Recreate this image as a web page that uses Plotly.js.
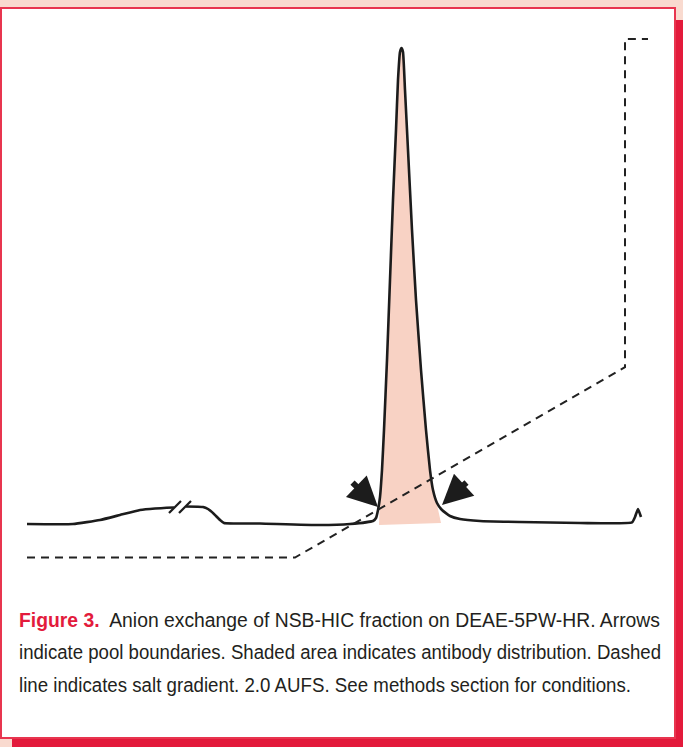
<!DOCTYPE html>
<html>
<head>
<meta charset="utf-8">
<script src="https://cdn.plot.ly/plotly-3.0.1.min.js"></script>
<style>
html,body{margin:0;padding:0;background:#f9dacf;}
#chart{width:683px;height:747px;}
</style>
</head>
<body>
<div id="chart"></div>
<script>
// Chromatogram (time, min ; absorbance, % of full scale)
var traceTime = [0, 4.6, 7.3, 9.3, 11.3, 12.8, 14.7, null, 15.9, 17.6, 18.1, 18.7, 19.3, 19.7, 23.3, 29.3, 32.3, 34.6, 34.9, 35.1, 35.3, 35.5, 35.7, 36.0, 36.3, 36.6, 36.9, 37.1, 37.3, 37.45, 37.6, 37.8, 38.1, 38.5, 38.9, 39.4, 39.9, 40.3, 40.6, 41.0, 41.5, 42.3, 43.3, 45.3, 49.3, 55.3, 60.5, 60.8, 61.1, 61.4];
var traceAbs  = [0, 0, 0.84, 1.89, 2.94, 3.26, 3.47, null, 3.68, 3.57, 3.15, 2.10, 0.84, 0.21, 0.10, -0.21, 0, 0.63, 1.26, 2.94, 5.67, 11.34, 19.75, 34.45, 51.26, 68.07, 82.77, 93.28, 99.16, 100, 99.16, 91.18, 78.57, 61.76, 47.06, 32.35, 19.75, 11.34, 7.14, 4.41, 2.94, 1.68, 1.05, 0.63, 0.42, 0.21, 0.32, 1.47, 3.15, 1.47];

// Antibody distribution (shaded)
var shadeTime = [35.2, 35.3, 35.5, 35.7, 36.0, 36.3, 36.6, 36.9, 37.1, 37.3, 37.45, 37.6, 37.8, 38.1, 38.5, 38.9, 39.4, 39.9, 40.3, 40.9, 41.4];
var shadeAbs  = [-0.21, 5.67, 11.34, 19.75, 34.45, 51.26, 68.07, 82.77, 93.28, 99.16, 100, 99.16, 91.18, 78.57, 61.76, 47.06, 32.35, 19.75, 11.34, 5.04, 0.21];

// Axis break marks "//"
var breakTime = [14.2, 15.4, null, 15.2, 16.4];
var breakAbs  = [2.31, 4.83, null, 2.31, 4.83];

// Salt gradient (% B)
var saltTime = [0, 26.8, 59.8, 59.8, 62.1];
var saltPct  = [0, 0, 36.7, 100, 100];

// Pool boundaries (arrows): tip and tail
var poolTipTime  = [35.1, 41.5];
var poolTipAbs   = [3.57, 3.99];
var poolTailTime = [32.4, 44.1];
var poolTailAbs  = [9.0, 9.0];

var captionLines = [
  '<span style="color:#e31b3c"><b>Figure 3.</b></span>&nbsp; Anion exchange of NSB-HIC fraction on DEAE-5PW-HR. Arrows',
  'indicate pool boundaries. Shaded area indicates antibody distribution. Dashed',
  'line indicates salt gradient. 2.0 AUFS. See methods section for conditions.'
];

var W = 683, H = 747;
function px(x){return x/W;}
function py(y){return 1 - y/H;}

var traces = [
  {x: shadeTime, y: shadeAbs, type:'scatter', mode:'lines', fill:'toself', fillcolor:'#f8d2c4', line:{width:0, color:'#f8d2c4'}, hoverinfo:'skip'},
  {x: saltTime, y: saltPct, yaxis:'y2', type:'scatter', mode:'lines', line:{color:'#222', width:2, dash:'8px,6px'}, hoverinfo:'skip'},
  {x: traceTime, y: traceAbs, type:'scatter', mode:'lines', connectgaps:false, line:{color:'#1c1c1c', width:2.6, shape:'spline', smoothing:0.4}, hoverinfo:'skip'},
  {x: breakTime, y: breakAbs, type:'scatter', mode:'lines', connectgaps:false, line:{color:'#1c1c1c', width:2.2}, hoverinfo:'skip'}
];

var annotations = [];
for (var i = 0; i < poolTipTime.length; i++) {
  annotations.push({x: poolTipTime[i], y: poolTipAbs[i], xref:'x', yref:'y', ax: poolTailTime[i], ay: poolTailAbs[i], axref:'x', ayref:'y', text:'', showarrow:true, arrowhead:2, arrowsize:1.0, arrowwidth:6, arrowcolor:'#1c1c1c', standoff:0});
}
var capY = [620, 652, 685];
var capWidth = [641, 642, 612];
for (var j = 0; j < captionLines.length; j++) {
  annotations.push({text: captionLines[j], xref:'paper', yref:'paper', x: px(17), y: py(capY[j]), xanchor:'left', yanchor:'middle', align:'left', showarrow:false, font:{family:'Liberation Sans, Arial, sans-serif', size:17.5, color:'#231f20'}});
}

var layout = {
  width: W, height: H, autosize:false,
  margin:{l:0, r:0, t:0, b:0, pad:0},
  paper_bgcolor:'#f9dacf', plot_bgcolor:'rgba(0,0,0,0)',
  showlegend:false,
  xaxis:{domain:[px(20), px(660)], range:[-0.7, 63.3], showgrid:false, zeroline:false, showticklabels:false, showline:false, ticks:''},
  yaxis:{domain:[py(570), py(30)], range:[-9.664, 103.78], showgrid:false, zeroline:false, showticklabels:false, showline:false, ticks:''},
  yaxis2:{overlaying:'y', range:[-2.411, 101.74], showgrid:false, zeroline:false, showticklabels:false, showline:false, ticks:''},
  shapes:[
    {type:'rect', xref:'paper', yref:'paper', x0:px(12), x1:1, y0:0, y1:py(20), fillcolor:'#e31a3b', line:{width:0}, layer:'below'},
    {type:'rect', xref:'paper', yref:'paper', x0:px(1), x1:px(675), y0:py(738), y1:py(8), fillcolor:'#ffffff', line:{color:'#e8354f', width:2}, layer:'below'}
  ],
  annotations: annotations
};

Plotly.newPlot('chart', traces, layout, {displayModeBar:false, staticPlot:true}).then(function(gd){
  // reproduce the reference's tall, condensed caption typeface
  for (var k = 0; k < captionLines.length; k++) {
    var idx = poolTipTime.length + k;
    var g = gd.querySelector('g.annotation[data-index="' + idx + '"]');
    if (!g) continue;
    var t = g.querySelector('text.annotation-text');
    if (t) {
      t.setAttribute('textLength', capWidth[k]);
      t.setAttribute('lengthAdjust', 'spacingAndGlyphs');
      t.style.transformBox = 'fill-box';
      t.style.transformOrigin = '0px 50%';
      t.style.transform = 'scaleY(1.2)';
    }
  }
});
</script>
</body>
</html>
